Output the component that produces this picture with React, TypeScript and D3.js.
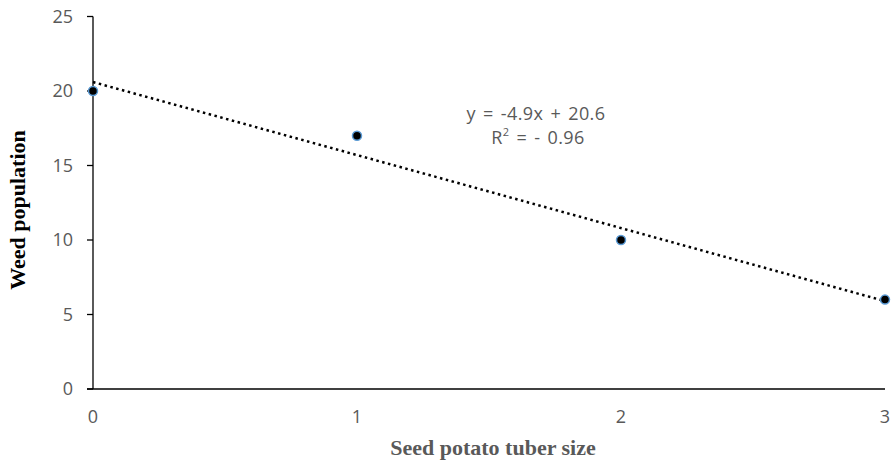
import React, { useEffect, useRef } from "react";
import * as d3 from "d3";

const xValues = [0, 1, 2, 3];
const yValues = [20, 17, 10, 6];
const yTicks = [0, 5, 10, 15, 20, 25];
const xTicks = [0, 1, 2, 3];
const slope = -4.9;
const intercept = 20.6;
const eqLine1 = "y = -4.9x + 20.6";
const xTitle = "Seed potato tuber size";
const yTitle = "Weed population";

const W = 893;
const H = 463;

export default function App() {
  const ref = useRef<SVGSVGElement>(null);
  useEffect(() => {
    const svg = d3.select(ref.current);
    svg.selectAll("*").remove();
    const x = d3.scaleLinear().domain([0, 3]).range([93, 885]);
    const y = d3.scaleLinear().domain([0, 25]).range([389, 16.5]);
    const font = "'Open Sans', 'Noto Sans', sans-serif";
    const serif = "'Liberation Serif', 'Times New Roman', serif";
    const gray = "#595959";

    // axes lines
    svg.append("line").attr("x1", x(0)).attr("x2", x(0)).attr("y1", y(25)).attr("y2", y(0)).attr("stroke", "#000").attr("stroke-width", 1.3);
    svg.append("line").attr("x1", x(0) - 6).attr("x2", x(3)).attr("y1", y(0)).attr("y2", y(0)).attr("stroke", "#000").attr("stroke-width", 1.3);
    // y ticks
    yTicks.forEach((t) => {
      svg.append("line").attr("x1", x(0) - 6).attr("x2", x(0)).attr("y1", y(t)).attr("y2", y(t)).attr("stroke", "#000").attr("stroke-width", 1.3);
      svg.append("text").attr("x", x(0) - 20).attr("y", y(t)).attr("dy", "0.35em").attr("text-anchor", "end")
        .attr("font-family", font).attr("font-size", 18).attr("fill", gray).text(t);
    });
    xTicks.forEach((t) => {
      svg.append("text").attr("x", x(t)).attr("y", y(0) + 34).attr("text-anchor", "middle")
        .attr("font-family", font).attr("font-size", 18).attr("fill", gray).text(t);
    });

    // trendline
    svg.append("line").attr("x1", x(0)).attr("y1", y(intercept)).attr("x2", x(3)).attr("y2", y(intercept + slope * 3))
      .attr("stroke", "#000").attr("stroke-width", 2.5).attr("stroke-dasharray", "2.5,3.5");

    // points
    xValues.forEach((xv, i) => {
      svg.append("circle").attr("cx", x(xv)).attr("cy", y(yValues[i])).attr("r", 4.5)
        .attr("fill", "#000").attr("stroke", "#5B9BD5").attr("stroke-width", 1.5);
    });

    // equation
    svg.append("text").attr("x", 536).attr("y", 120).attr("text-anchor", "middle")
      .attr("font-family", font).attr("font-size", 18).attr("fill", gray)
      .attr("word-spacing", 2).attr("letter-spacing", 0.4).text(eqLine1);
    const r2 = svg.append("text").attr("x", 538).attr("y", 144).attr("text-anchor", "middle")
      .attr("font-family", font).attr("font-size", 18).attr("fill", gray)
      .attr("word-spacing", 2).attr("letter-spacing", 0.4);
    r2.append("tspan").text("R");
    r2.append("tspan").attr("dy", -8).attr("font-size", 11).text("2");
    r2.append("tspan").attr("dy", 8).text(" = - 0.96");

    // axis titles
    svg.append("text").attr("x", 493).attr("y", 455).attr("text-anchor", "middle")
      .attr("font-family", serif).attr("font-weight", "bold")
      .attr("font-size", 22).attr("fill", gray).text(xTitle);
    svg.append("text").attr("transform", `translate(25, 210) rotate(-90)`).attr("text-anchor", "middle")
      .attr("font-family", serif).attr("font-weight", "bold")
      .attr("font-size", 22).attr("fill", "#000").text(yTitle);
  }, []);
  return (
    <svg ref={ref} width={W} height={H} style={{ position: "absolute", left: 0, top: 0, background: "#fff" }} />
  );
}
